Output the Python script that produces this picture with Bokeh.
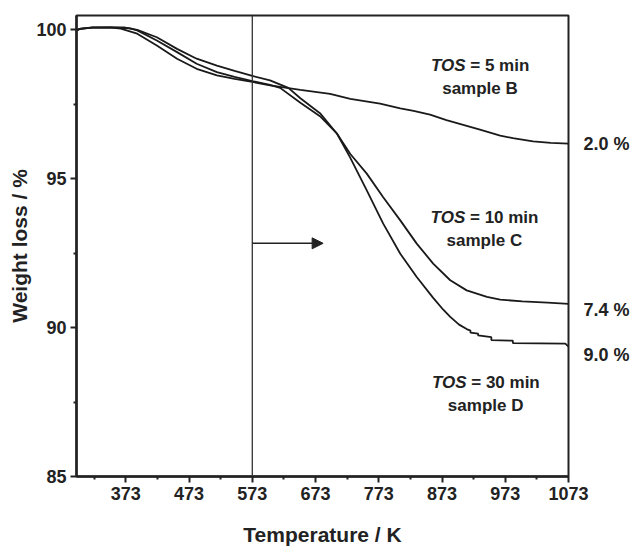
from bokeh.plotting import figure
from bokeh.models import Label, Arrow, NormalHead, Span, FixedTicker, LinearAxis
from bokeh.embed import file_html
from bokeh.resources import INLINE

# ---------------- data ----------------
temp_B = [295, 300, 320, 350, 365, 391, 422, 454, 485, 517, 545, 573, 601, 617, 649, 696, 728, 775, 807, 828, 854, 880, 933, 965, 985, 1017, 1045, 1073]
wt_B = [99.98, 100.03, 100.07, 100.07, 100.04, 99.87, 99.47, 99.03, 98.69, 98.47, 98.35, 98.25, 98.13, 98.08, 97.98, 97.85, 97.68, 97.52, 97.36, 97.28, 97.15, 96.97, 96.65, 96.45, 96.36, 96.25, 96.2, 96.18]

temp_C = [295, 300, 320, 350, 380, 391, 422, 454, 485, 517, 545, 573, 601, 617, 649, 680, 707, 728, 754, 780, 807, 833, 859, 886, 912, 944, 965, 1000, 1040, 1073]
wt_C = [99.98, 100.03, 100.07, 100.08, 100.05, 99.98, 99.64, 99.25, 98.86, 98.58, 98.42, 98.28, 98.15, 98.05, 97.55, 97.1, 96.51, 95.83, 95.17, 94.38, 93.6, 92.82, 92.15, 91.59, 91.25, 91.03, 90.94, 90.88, 90.84, 90.8]

temp_D = [295, 300, 320, 338, 370, 391, 422, 454, 485, 517, 545, 573, 601, 630, 649, 680, 707, 728, 754, 780, 807, 833, 859, 875, 886, 900, 912, 918, 918, 930, 930, 951, 951, 985, 985, 1068, 1073]
wt_D = [99.98, 100.03, 100.08, 100.08, 100.08, 100.0, 99.75, 99.36, 99.03, 98.8, 98.62, 98.45, 98.3, 98.05, 97.7, 97.2, 96.51, 95.7, 94.61, 93.49, 92.48, 91.7, 91.0, 90.6, 90.36, 90.1, 89.95, 89.9, 89.83, 89.8, 89.74, 89.68, 89.58, 89.56, 89.48, 89.46, 89.36]

x_ticks = [373, 473, 573, 673, 773, 873, 973, 1073]
x_minor = [323, 423, 523, 623, 723, 823, 923, 1023]
y_ticks = [85, 90, 95, 100]
y_minor = [87.5, 92.5, 97.5]

marker_temp = 573
arrow_y = 92.83
arrow_end = 685

tos_values = ["5", "10", "30"]
sample_names = ["B", "C", "D"]
label_x = [933, 940, 942]
label_y_top = [98.8, 93.71, 88.17]
label_y_bot = [98.03, 92.93, 87.39]

loss_labels = ["2.0 %", "7.4 %", "9.0 %"]
loss_label_y = [96.18, 90.58, 89.07]

# ---------------- style ----------------
FONT = "Liberation Sans"
INK = "#222222"
FS = 17
EM = {"T": .611, "O": .778, "S": .667, " ": .278, "=": .584, "m": .889,
      "i": .278, "n": .611, "0": .556, "1": .556, "3": .556, "5": .556}


def w(s):
    return sum(EM.get(c, .556) for c in s) * FS


p = figure(width=632, height=552, x_range=(295, 1073), y_range=(85, 100.48),
           output_backend="svg", toolbar_location=None,
           min_border_left=76, min_border_right=63, min_border_top=15, min_border_bottom=76)
p.xgrid.visible = False
p.ygrid.visible = False
p.outline_line_color = INK
p.outline_line_width = 2
p.outline_line_alpha = 1
p.background_fill_color = "white"
p.border_fill_color = "white"

for ax in (p.xaxis[0], p.yaxis[0]):
    ax.axis_line_width = 2.5
    ax.axis_line_color = INK
    ax.major_tick_line_width = 2
    ax.major_tick_line_color = INK
    ax.minor_tick_line_width = 2
    ax.minor_tick_line_color = INK
    ax.major_tick_out = 6
    ax.major_tick_in = 0
    ax.minor_tick_out = 3
    ax.minor_tick_in = 0
    ax.major_label_text_font = FONT
    ax.major_label_text_font_style = "bold"
    ax.major_label_text_font_size = "18px"
    ax.major_label_text_color = INK
    ax.axis_label_text_font = FONT
    ax.axis_label_text_font_style = "bold"
    ax.axis_label_text_font_size = "21px"
    ax.axis_label_text_color = INK

p.xaxis.ticker = FixedTicker(ticks=x_ticks, minor_ticks=x_minor)
p.yaxis.ticker = FixedTicker(ticks=y_ticks, minor_ticks=y_minor)
p.xaxis.axis_label = "Temperature / K"
p.yaxis.axis_label = "Weight loss / %"
p.xaxis.major_label_standoff = 4
p.yaxis.major_label_standoff = 4
p.xaxis.axis_label_standoff = 20
p.yaxis.axis_label_standoff = 2

# right-hand loss annotations, drawn as tick labels of an invisible right axis
raxis = LinearAxis(ticker=FixedTicker(ticks=loss_label_y, minor_ticks=[]),
                   major_label_overrides={v: t for v, t in zip(loss_label_y, loss_labels)},
                   axis_line_color=None, major_tick_line_color=None, minor_tick_line_color=None,
                   major_tick_out=0, major_tick_in=0, major_label_standoff=15,
                   major_label_text_font=FONT, major_label_text_font_style="bold",
                   major_label_text_font_size="18px", major_label_text_color=INK)
p.add_layout(raxis, "right")

for t, wt in ((temp_B, wt_B), (temp_C, wt_C), (temp_D, wt_D)):
    p.line(t, wt, line_color="#1a1a1a", line_width=1.8)

p.add_layout(Span(location=marker_temp, dimension="height", line_color="#333333", line_width=1.3))
p.add_layout(Arrow(end=NormalHead(size=11, fill_color=INK, line_color=INK),
                   x_start=marker_temp, y_start=arrow_y, x_end=arrow_end, y_end=arrow_y,
                   line_color=INK, line_width=1.5))

for tv, sn, lx, ly1, ly2 in zip(tos_values, sample_names, label_x, label_y_top, label_y_bot):
    rest = "= %s min" % tv
    total = w("TOS") + w(" ") + w(rest)
    split = -total / 2 + w("TOS")
    p.add_layout(Label(x=lx, y=ly1, x_offset=split, text="TOS", text_align="right",
                       text_baseline="middle", text_font=FONT, text_font_style="bold italic",
                       text_font_size="%dpx" % FS, text_color=INK))
    p.add_layout(Label(x=lx, y=ly1, x_offset=split + w(" "), text=rest, text_align="left",
                       text_baseline="middle", text_font=FONT, text_font_style="bold",
                       text_font_size="%dpx" % FS, text_color=INK))
    p.add_layout(Label(x=lx, y=ly2, text="sample %s" % sn, text_align="center",
                       text_baseline="middle", text_font=FONT, text_font_style="bold",
                       text_font_size="%dpx" % FS, text_color=INK))

open("out.html", "w").write(file_html(p, INLINE))
